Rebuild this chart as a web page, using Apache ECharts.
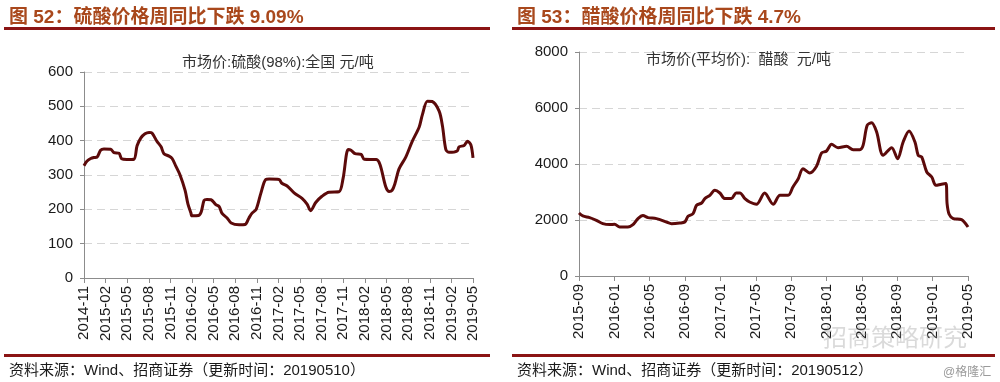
<!DOCTYPE html>
<html>
<head>
<meta charset="utf-8">
<script src="https://cdn.jsdelivr.net/npm/echarts@6/dist/echarts.min.js"></script>
<style>
html,body{margin:0;padding:0;background:#fff;}
#c{width:1000px;height:382px;}
</style>
</head>
<body>
<div id="c"></div>
<script>
// ---- Data: 硫酸 (sulfuric acid 98%), 元/吨 ----
var sulfuricDates = ['2014-11-01','2014-11-13','2014-11-29','2014-12-12','2014-12-25','2015-01-10','2015-01-24','2015-02-22','2015-03-06','2015-03-27','2015-04-08','2015-04-29','2015-05-29','2015-06-12','2015-06-28','2015-07-15','2015-08-02','2015-08-14','2015-09-05','2015-09-22','2015-10-04','2015-10-25','2015-11-08','2015-11-24','2015-12-11','2016-01-02','2016-01-14','2016-01-26','2016-02-01','2016-02-28','2016-03-09','2016-03-21','2016-04-03','2016-04-20','2016-05-10','2016-05-24','2016-06-06','2016-06-27','2016-07-14','2016-08-17','2016-09-12','2016-09-28','2016-10-11','2016-10-28','2016-11-18','2016-12-08','2016-12-22','2017-02-03','2017-02-15','2017-03-07','2017-04-06','2017-05-09','2017-05-30','2017-06-15','2017-07-06','2017-08-02','2017-09-01','2017-10-13','2017-10-30','2017-11-21','2017-12-03','2017-12-20','2018-01-15','2018-01-28','2018-03-18','2018-04-04','2018-04-28','2018-05-12','2018-05-24','2018-06-06','2018-06-23','2018-07-21','2018-08-18','2018-09-17','2018-09-30','2018-10-21','2018-11-11','2018-12-10','2018-12-24','2019-01-08','2019-01-22','2019-02-25','2019-03-03','2019-03-24','2019-04-08','2019-04-22','2019-05-01'];
var sulfuricValues = [327,340,348,351,352,372,376,375,365,363,347,345,346,385,408,420,424,422,398,382,362,355,348,325,300,255,215,190,181,182,192,226,229,228,214,208,188,175,160,155,156,175,189,200,248,287,288,287,276,268,248,232,215,196,220,238,250,251,290,374,372,362,360,346,345,330,265,252,255,275,318,352,398,440,475,515,514,486,442,374,366,370,382,386,398,388,350];
var sulfuricTicks = ['2014-11','2015-02','2015-05','2015-08','2015-11','2016-02','2016-05','2016-08','2016-11','2017-02','2017-05','2017-08','2017-11','2018-02','2018-05','2018-08','2018-11','2019-02','2019-05'];

// ---- Data: 醋酸 (acetic acid, average market price), 元/吨 ----
var aceticDates = ['2015-09-01','2015-09-14','2015-10-07','2015-10-30','2015-11-22','2015-12-15','2016-01-02','2016-01-19','2016-02-17','2016-03-04','2016-03-21','2016-04-08','2016-04-25','2016-05-24','2016-06-28','2016-07-15','2016-08-13','2016-08-30','2016-09-11','2016-09-28','2016-10-10','2016-10-27','2016-11-08','2016-11-25','2016-12-12','2016-12-29','2017-01-16','2017-02-08','2017-02-24','2017-03-07','2017-03-24','2017-04-10','2017-05-03','2017-06-01','2017-06-30','2017-07-23','2017-08-21','2017-09-07','2017-09-25','2017-10-11','2017-11-04','2017-11-27','2017-12-14','2018-01-01','2018-01-18','2018-02-10','2018-03-09','2018-04-01','2018-04-24','2018-05-05','2018-05-19','2018-06-04','2018-06-21','2018-07-13','2018-08-12','2018-09-02','2018-09-21','2018-10-11','2018-10-31','2018-11-12','2018-11-24','2018-12-11','2018-12-28','2019-01-12','2019-02-01','2019-02-16','2019-02-20','2019-02-27','2019-03-11','2019-04-09','2019-05-01'];
var aceticValues = [2250,2143,2086,1990,1871,1835,1845,1750,1750,1835,2050,2157,2086,2050,1929,1870,1893,1929,2132,2229,2525,2607,2764,2882,3060,2964,2764,2764,2964,2964,2764,2643,2560,2964,2560,2882,2882,3179,3476,3833,3679,3918,4393,4464,4702,4583,4631,4512,4512,4667,5381,5476,5143,4310,4583,4190,4786,5179,4786,4310,4250,3714,3536,3239,3280,3300,2586,2204,2050,2014,1750];
var aceticTicks = ['2015-09','2016-01','2016-05','2016-09','2017-01','2017-05','2017-09','2018-01','2018-05','2018-09','2019-01','2019-05'];

// ---- Text ----
var leftTitle = '图 52：硫酸价格周同比下跌 9.09%';
var rightTitle = '图 53：醋酸价格周同比下跌 4.7%';
var leftSub = '市场价:硫酸(98%):全国 元/吨';
var rightSub = '市场价(平均价):  醋酸  元/吨';
var leftSource = '资料来源：Wind、招商证券（更新时间：20190510）';
var rightSource = '资料来源：Wind、招商证券（更新时间：20190512）';

function monthOffset(dateStr, baseY, baseM) {
  var p = dateStr.split('-');
  var y = +p[0], m = +p[1], d = +p[2];
  return (y - baseY) * 12 + (m - baseM) + (d - 1) / 30;
}
function pairs(dates, vals, baseY, baseM) {
  return dates.map(function (d, i) { return [monthOffset(d, baseY, baseM), vals[i]]; });
}

var FONT = '"Liberation Sans", Arial, "Noto Sans CJK SC", sans-serif';
var LINE = '#5c0a0a';
var RULE = '#8b1414';
var TITLE = '#a9481c';

var chart = echarts.init(document.getElementById('c'), null, {renderer: 'canvas'});

function xAxisOpt(gridIndex, max, interval, ticks) {
  return {
    type: 'value', gridIndex: gridIndex, min: 0, max: max, interval: interval,
    axisLine: {show: true, lineStyle: {color: '#8c8c8c', width: 1}},
    axisTick: {show: true, length: 5, lineStyle: {color: '#8c8c8c'}},
    splitLine: {show: false},
    axisLabel: {
      rotate: 90, margin: 8, color: '#1a1a1a', fontSize: 15, fontFamily: FONT,
      formatter: function (v) { return ticks[Math.round(v / interval)] || ''; }
    }
  };
}
function yAxisOpt(gridIndex, max, interval) {
  return {
    type: 'value', gridIndex: gridIndex, min: 0, max: max, interval: interval,
    axisLine: {show: true, lineStyle: {color: '#8c8c8c', width: 1}},
    axisTick: {show: true, length: 4, lineStyle: {color: '#8c8c8c'}},
    splitLine: {show: true, lineStyle: {color: '#d6d6d6', type: [8, 5], width: 1}},
    axisLabel: {color: '#1a1a1a', fontSize: 15, fontFamily: FONT, margin: 11,
      formatter: function (v) { return String(v); }}
  };
}

var option = {
  animation: false,
  backgroundColor: '#ffffff',
  title: [
    {text: leftTitle, left: 4, top: 3, textStyle: {color: TITLE, fontSize: 19, fontWeight: 'bold', fontFamily: FONT}},
    {text: rightTitle, left: 512, top: 3, textStyle: {color: TITLE, fontSize: 19, fontWeight: 'bold', fontFamily: FONT}},
    {text: leftSub, left: 177, top: 50, textStyle: {color: '#333', fontSize: 15, fontWeight: 'normal', fontFamily: FONT}},
    {text: rightSub, left: 641, top: 47, textStyle: {color: '#333', fontSize: 15, fontWeight: 'normal', fontFamily: FONT}},
    {text: leftSource, left: 4, top: 358, textStyle: {color: '#1a1a1a', fontSize: 15, fontWeight: 'normal', fontFamily: FONT}},
    {text: rightSource, left: 512, top: 358, textStyle: {color: '#1a1a1a', fontSize: 15, fontWeight: 'normal', fontFamily: FONT}},
    {text: '@格隆汇', left: 938, top: 362, textStyle: {color: '#9a9a9a', fontSize: 12, fontWeight: 'normal', fontFamily: FONT}},
    {text: '招商策略研究', left: 818, top: 322, textStyle: {color: 'rgba(150,150,150,0.35)', fontSize: 24, fontWeight: 'normal', fontFamily: FONT}}
  ],
  graphic: [
    {type: 'rect', shape: {x: 4, y: 27, width: 486, height: 3}, style: {fill: RULE}, silent: true},
    {type: 'rect', shape: {x: 512, y: 27, width: 483, height: 3}, style: {fill: RULE}, silent: true},
    {type: 'rect', shape: {x: 4, y: 354, width: 486, height: 3}, style: {fill: RULE}, silent: true},
    {type: 'rect', shape: {x: 512, y: 354, width: 483, height: 3}, style: {fill: RULE}, silent: true}
  ],
  grid: [
    {left: 84, top: 72, width: 389, height: 206, containLabel: false},
    {left: 579, top: 52, width: 389, height: 224, containLabel: false}
  ],
  xAxis: [
    xAxisOpt(0, 54, 3, sulfuricTicks),
    xAxisOpt(1, 44, 4, aceticTicks)
  ],
  yAxis: [
    yAxisOpt(0, 600, 100),
    yAxisOpt(1, 8000, 2000)
  ],
  series: [
    {type: 'line', xAxisIndex: 0, yAxisIndex: 0, data: pairs(sulfuricDates, sulfuricValues, 2014, 11),
     showSymbol: false, smooth: 0.3, lineStyle: {color: LINE, width: 3}},
    {type: 'line', xAxisIndex: 1, yAxisIndex: 1, data: pairs(aceticDates, aceticValues, 2015, 9),
     showSymbol: false, smooth: 0.3, lineStyle: {color: LINE, width: 3}}
  ]
};
chart.setOption(option);
</script>
</body>
</html>
